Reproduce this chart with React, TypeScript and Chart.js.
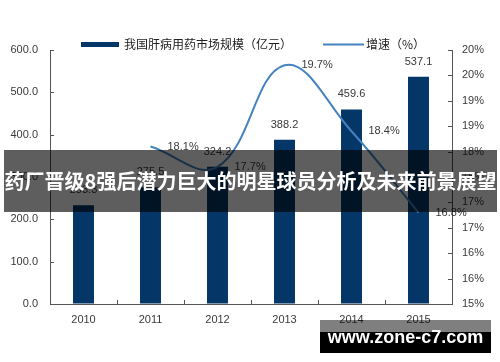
import React, { useEffect, useRef } from "react";
import { Chart, registerables } from "chart.js";

Chart.register(...registerables);

const years = ["2010", "2011", "2012", "2013", "2014", "2015"];
const marketSize = [233.3, 275.5, 324.2, 388.2, 459.6, 537.1];
const growth: (number | null)[] = [null, 18.1, 17.7, 19.7, 18.4, 16.8];
const barLegend = "我国肝病用药市场规模（亿元）";
const lineLegend = "增速（%）";
const bannerText = "药厂晋级8强后潜力巨大的明星球员分析及未来前景展望";
const watermarkText = "www.zone-c7.com";

const BAR_COLOR = "#053668";
const LINE_COLOR = "#4483c0";
const AXIS_COLOR = "#555";
const TEXT_COLOR = "#3a3a3a";
const NUM_FONT = "11px 'Liberation Sans', Arial, sans-serif";
const CJK_FONT = "12px 'Noto Sans CJK SC', sans-serif";

const overlayPlugin = {
  id: "overlay",
  afterDatasetsDraw(chart: any) {
    const ctx = chart.ctx as CanvasRenderingContext2D;
    const area = chart.chartArea;
    const xs = chart.scales.x;
    const ys = chart.scales.y;
    const y1 = chart.scales.y1;
    ctx.save();
    // inside tick marks
    ctx.strokeStyle = AXIS_COLOR;
    ctx.lineWidth = 1;
    ys.ticks.forEach((t: any) => {
      const py = Math.round(ys.getPixelForValue(t.value)) + 0.5;
      ctx.beginPath();
      ctx.moveTo(area.left, py);
      ctx.lineTo(area.left + 4, py);
      ctx.stroke();
    });
    y1.ticks.forEach((t: any) => {
      const py = Math.round(y1.getPixelForValue(t.value)) + 0.5;
      ctx.beginPath();
      ctx.moveTo(area.right - 4, py);
      ctx.lineTo(area.right, py);
      ctx.stroke();
    });
    for (let i = 1; i < years.length; i++) {
      const px = Math.round((xs.getPixelForValue(i - 1) + xs.getPixelForValue(i)) / 2) + 0.5;
      ctx.beginPath();
      ctx.moveTo(px, area.bottom - 4);
      ctx.lineTo(px, area.bottom);
      ctx.stroke();
    }
    // data labels
    ctx.font = NUM_FONT;
    ctx.fillStyle = TEXT_COLOR;
    ctx.textBaseline = "middle";
    ctx.textAlign = "center";
    const barMeta = chart.getDatasetMeta(0);
    barMeta.data.forEach((el: any, i: number) => {
      ctx.fillText(marketSize[i].toFixed(1), el.x, el.y - 15);
    });
    ctx.textAlign = "left";
    const lineMeta = chart.getDatasetMeta(1);
    lineMeta.data.forEach((el: any, i: number) => {
      const v = growth[i];
      if (v == null) return;
      ctx.fillText(v.toFixed(1) + "%", el.x + 17, el.y);
    });
    // legend
    ctx.fillStyle = BAR_COLOR;
    ctx.fillRect(81, 42, 38, 5);
    ctx.fillStyle = "#222";
    ctx.font = CJK_FONT;
    ctx.fillText(barLegend, 124, 44.5);
    ctx.strokeStyle = LINE_COLOR;
    ctx.lineWidth = 2;
    ctx.beginPath();
    ctx.moveTo(323, 44.5);
    ctx.lineTo(364, 44.5);
    ctx.stroke();
    ctx.fillText(lineLegend, 366, 44.5);
    ctx.restore();
  },
};

export default function App() {
  const ref = useRef<HTMLCanvasElement | null>(null);
  useEffect(() => {
    if (!ref.current) return;
    const chart = new Chart(ref.current, {
      type: "bar",
      data: {
        labels: years,
        datasets: [
          {
            type: "bar",
            label: barLegend,
            data: marketSize,
            backgroundColor: BAR_COLOR,
            yAxisID: "y",
            barPercentage: 0.313,
            categoryPercentage: 1,
            order: 2,
          },
          {
            type: "line",
            label: lineLegend,
            data: growth as any,
            borderColor: LINE_COLOR,
            backgroundColor: LINE_COLOR,
            borderWidth: 2,
            pointRadius: 0,
            tension: 0.4,
            yAxisID: "y1",
            order: 1,
          } as any,
        ],
      },
      options: {
        responsive: false,
        animation: false,
        layout: { padding: { top: 50, left: 0, right: 0, bottom: 0 } },
        plugins: {
          legend: { display: false },
          tooltip: { enabled: false },
        },
        scales: {
          x: {
            offset: true,
            grid: { display: true, drawOnChartArea: false, drawTicks: false },
            border: { display: true, color: AXIS_COLOR, width: 1 },
            ticks: { color: TEXT_COLOR, font: { family: "'Liberation Sans', Arial", size: 11 }, padding: 9 },
            afterFit: (s: any) => { s.height = 58; },
          },
          y: {
            position: "left",
            min: 0,
            max: 600,
            ticks: {
              stepSize: 100,
              color: TEXT_COLOR,
              font: { family: "'Liberation Sans', Arial", size: 11 },
              padding: 12,
              callback: (v: any) => Number(v).toFixed(1),
            },
            grid: { display: true, drawOnChartArea: false, drawTicks: false },
            border: { display: true, color: AXIS_COLOR, width: 1 },
            afterFit: (s: any) => { s.width = 50; },
          },
          y1: {
            position: "right",
            min: 15,
            max: 20,
            ticks: {
              stepSize: 0.5,
              color: TEXT_COLOR,
              font: { family: "'Liberation Sans', Arial", size: 11 },
              padding: 10,
              callback: (v: any) => Math.round(Number(v)) + "%",
            },
            grid: { display: true, drawOnChartArea: false, drawTicks: false },
            border: { display: true, color: AXIS_COLOR, width: 1 },
            afterFit: (s: any) => { s.width = 48; },
          },
        },
      },
      plugins: [overlayPlugin],
    } as any);
    return () => chart.destroy();
  }, []);

  return (
    <div style={{ position: "absolute", left: 0, top: 0, width: 500, height: 362, background: "#fff", overflow: "hidden" }}>
      <canvas ref={ref} width={500} height={362} style={{ display: "block", width: 500, height: 362 }} />
      <div
        style={{
          position: "absolute",
          left: 4,
          top: 150,
          width: 493,
          height: 62,
          background: "rgba(0,0,0,0.63)",
          color: "#fff",
          fontFamily: "'Noto Sans CJK SC', sans-serif",
          fontWeight: 700,
          fontSize: 20,
          lineHeight: "62px",
          textAlign: "center",
          whiteSpace: "nowrap",
        }}
      >
        {bannerText}
      </div>
      <div style={{ position: "absolute", left: 320, top: 320, width: 171, height: 12, background: "rgba(0,0,0,0.5)" }} />
      <div style={{ position: "absolute", left: 320, top: 332, width: 171, height: 21, background: "#000" }} />
      <div
        style={{
          position: "absolute",
          left: 320,
          top: 328,
          width: 171,
          height: 18,
          lineHeight: "18px",
          textAlign: "center",
          color: "#fff",
          fontFamily: "'Liberation Sans', Arial, sans-serif",
          fontWeight: 700,
          fontSize: 18,
          whiteSpace: "nowrap",
        }}
      >
        {watermarkText}
      </div>
    </div>
  );
}
